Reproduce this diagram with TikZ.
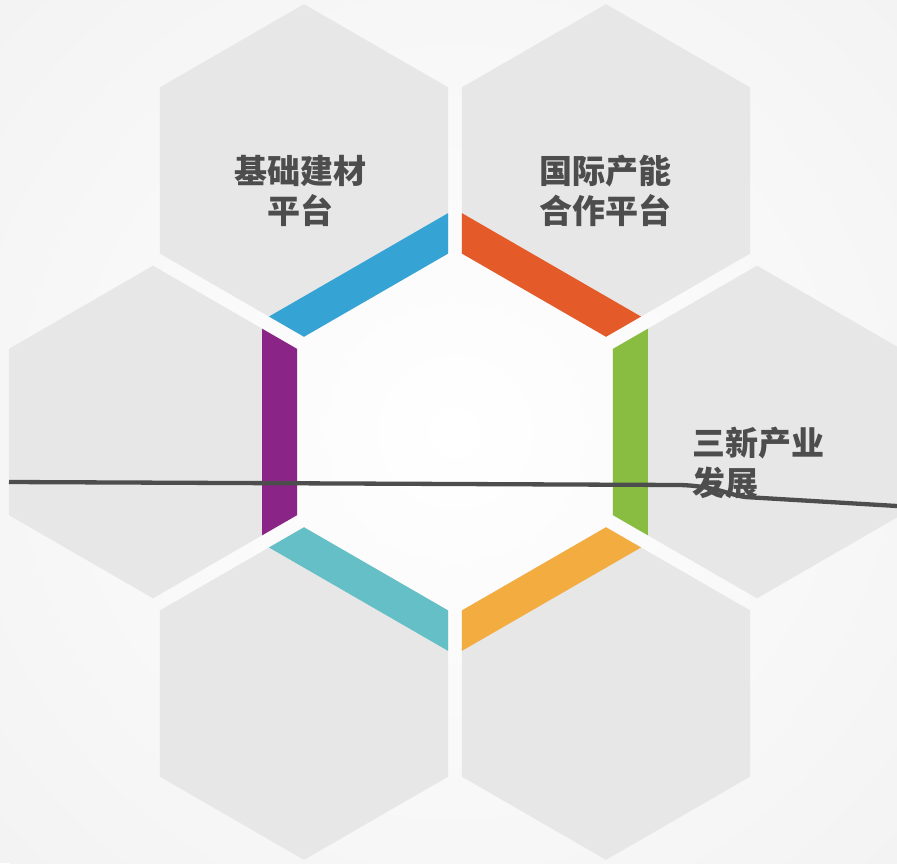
\documentclass[tikz,border=0pt]{standalone}
\usepackage{fontspec}
\newfontfamily\cjk{Noto Sans CJK SC}
\definecolor{bggray}{HTML}{F3F3F3}
\definecolor{hexgray}{HTML}{E7E7E7}
\definecolor{textgray}{HTML}{4D4D4D}
\definecolor{bandblue}{HTML}{35A3D4}
\definecolor{bandorange}{HTML}{E45A28}
\definecolor{bandgreen}{HTML}{89BD41}
\definecolor{bandamber}{HTML}{F2AC40}
\definecolor{bandteal}{HTML}{65BFC6}
\definecolor{bandpurple}{HTML}{8A2486}
\begin{document}
\begin{tikzpicture}[x=1pt, y=-1pt,
    cjktext/.style={text=textgray, inner sep=0pt, font=\cjk\bfseries\fontsize{33}{40}\selectfont}]
    % Page frame and soft background
    \useasboundingbox (0,0) rectangle (897,863);
    \clip (0,0) rectangle (897,863);
    \fill[bggray] (0,0) rectangle (897,863);
    \shade[inner color=white, outer color=bggray] (455,432) circle (620);
    
    % Centre of the honeycomb
    \coordinate (O) at (455,432);
    
    % Outer cells, each with a coloured strip on the side facing the centre
    \foreach \ang/\col in {240/bandblue, 300/bandorange, 0/bandgreen, 60/bandamber, 120/bandteal, 180/bandpurple} {
        \begin{scope}[shift={(O)}, shift={(\ang:302)}, rotate={180-\ang}]
            \fill[hexgray] (30:166.3) -- (90:166.3) -- (150:166.3) -- (210:166.3) -- (270:166.3) -- (330:166.3) -- cycle;
            \clip (30:166.3) -- (90:166.3) -- (150:166.3) -- (210:166.3) -- (270:166.3) -- (330:166.3) -- cycle;
            \fill[\col] (109,-200) rectangle (200,200);
        \end{scope}
    }
    
    % Stroke across the picture
    \coordinate (T1) at (9,482);
    \coordinate (T2) at (680,485);
    \coordinate (T3) at (745,497);
    \coordinate (T4) at (897,506);
    \draw[textgray, line width=4.3pt, line join=round] (T1) -- (T2) .. controls (715,486) and (730,495) .. (T3) -- (T4);
    
    % Labels
    \node[cjktext, align=center] (jichu) at (300,191) {基础建材\\平台};
    \node[cjktext, align=center] (guoji) at (605,191) {国际产能\\合作平台};
    \node[cjktext, align=left, anchor=west] (sanxin) at (692,463) {三新产业\\发展};
\end{tikzpicture}
\end{document}
